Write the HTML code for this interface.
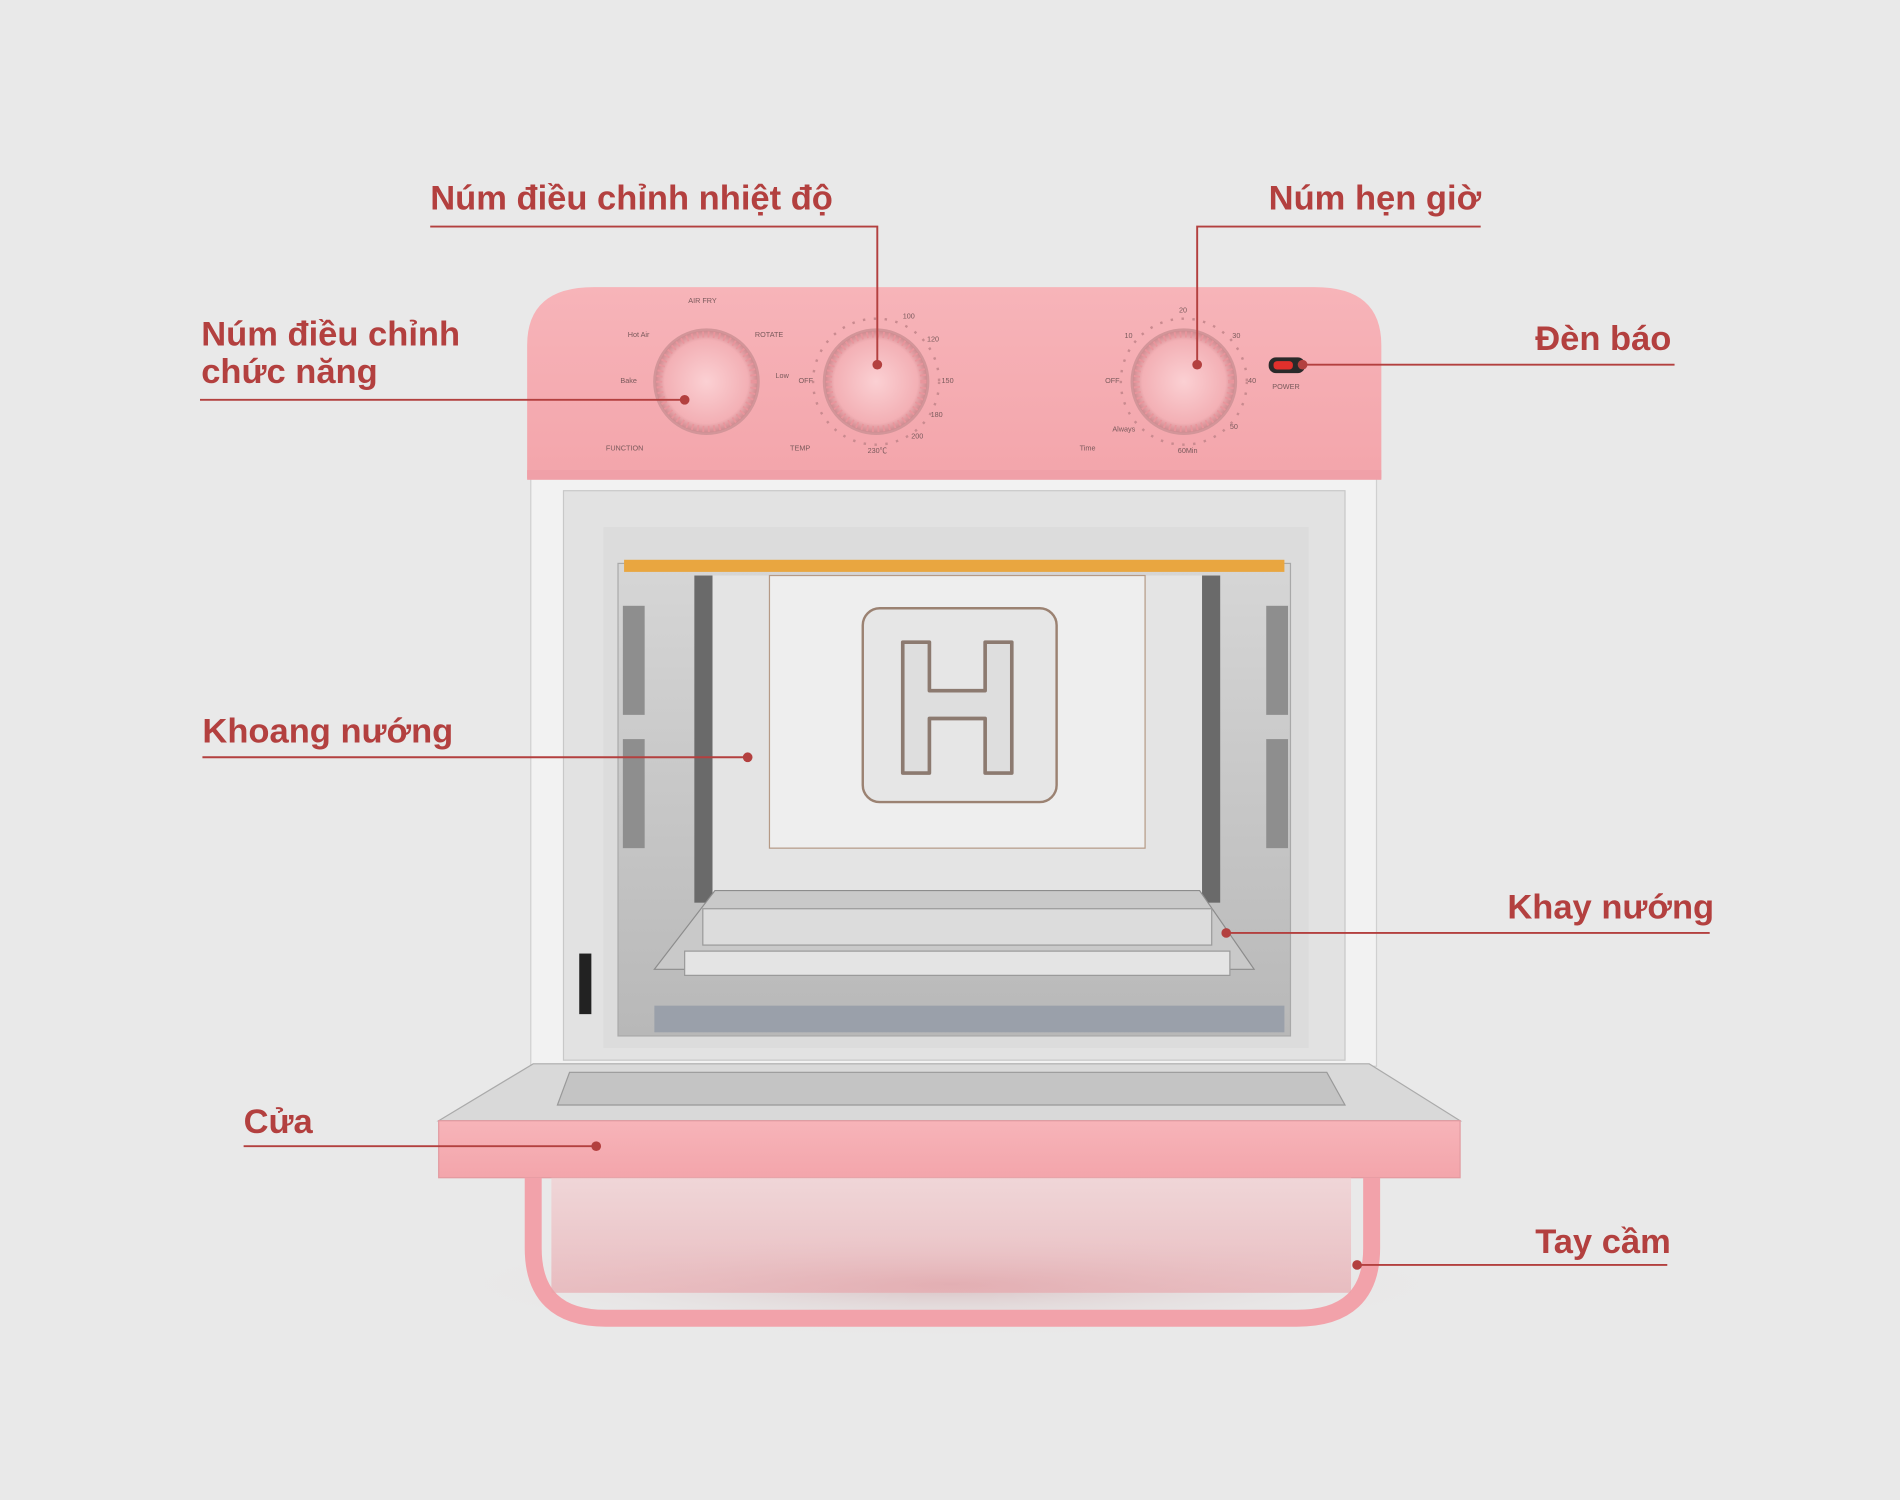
<!DOCTYPE html>
<html><head><meta charset="utf-8"><style>
html,body{margin:0;padding:0;background:#e9e9e9;}
svg{display:block}
.t{font-family:"Liberation Sans",sans-serif;font-size:28.5px;font-weight:bold;fill:#b3403f;}
.l{stroke:#b3403f;stroke-width:1.6;fill:none}
.s{font-family:"Liberation Sans","Noto Sans CJK KR",sans-serif;font-size:6px;fill:#7a5a5c}
</style></head><body>
<svg width="1900" height="1500" viewBox="0 0 1568 1238" xmlns="http://www.w3.org/2000/svg">
<defs>
<linearGradient id="pk" x1="0" y1="0" x2="0" y2="1"><stop offset="0" stop-color="#f7b4b9"/><stop offset="1" stop-color="#f3a5ab"/></linearGradient>
<linearGradient id="cav" x1="0" y1="0" x2="0" y2="1"><stop offset="0" stop-color="#d6d6d6"/><stop offset="1" stop-color="#b8b8b8"/></linearGradient>
<linearGradient id="hd" x1="0" y1="0" x2="0" y2="1"><stop offset="0" stop-color="#f4c9cc"/><stop offset="1" stop-color="#e8a0a6"/></linearGradient>
<radialGradient id="kn"><stop offset="0" stop-color="#fbd0d3"/><stop offset="0.8" stop-color="#f3b0b5"/><stop offset="1" stop-color="#c9868b"/></radialGradient>
<radialGradient id="sh" cx="0.5" cy="0.5" r="0.5"><stop offset="0" stop-color="#d9c0c2"/><stop offset="1" stop-color="#e9e9e9" stop-opacity="0"/></radialGradient>
</defs>
<rect width="1568" height="1238" fill="#e9e9e9"/>
<ellipse cx="785" cy="1060" rx="420" ry="45" fill="url(#sh)"/>
<rect x="438" y="385" width="698" height="495" fill="#f2f2f2" stroke="#d0d0d0"/>
<rect x="465" y="405" width="645" height="470" fill="#e2e2e2" stroke="#c8c8c8"/>
<rect x="498" y="435" width="582" height="430" fill="#dcdcdc"/>
<rect x="510" y="465" width="555" height="390" fill="url(#cav)" stroke="#a9a9a9"/>
<rect x="515" y="462" width="545" height="10" fill="#e9a640"/>
<rect x="573" y="475" width="15" height="270" fill="#6a6a6a"/>
<rect x="992" y="475" width="15" height="270" fill="#6a6a6a"/>
<rect x="588" y="475" width="404" height="265" fill="#e4e4e4"/>
<rect x="635" y="475" width="310" height="225" fill="#eeeeee" stroke="#b59a86"/>
<g fill="#8e8e8e"><rect x="514" y="500" width="18" height="90"/><rect x="514" y="610" width="18" height="90"/><rect x="1045" y="500" width="18" height="90"/><rect x="1045" y="610" width="18" height="90"/></g>
<rect x="712" y="502" width="160" height="160" rx="14" fill="#e6e6e6" stroke="#9b8272" stroke-width="2"/>
<path d="M745 530 h22 v40 h46 v-40 h22 v108 h-22 v-45 h-46 v45 h-22z" fill="#dedede" stroke="#8c7a70" stroke-width="3" stroke-linejoin="round"/>
<polygon points="590,735 990,735 1035,800 540,800" fill="#c9c9c9" stroke="#8c8c8c"/>
<rect x="580" y="750" width="420" height="30" fill="#dcdcdc" stroke="#9a9a9a"/>
<rect x="565" y="785" width="450" height="20" fill="#e4e4e4" stroke="#9a9a9a"/>
<rect x="540" y="830" width="520" height="22" fill="#9aa0aa"/>
<rect x="478" y="787" width="10" height="50" fill="#222"/>
<polygon points="440,878 1130,878 1205,925 362,925" fill="#d9d9d9" stroke="#aaa"/>
<polygon points="470,885 1095,885 1110,912 460,912" fill="#c4c4c4" stroke="#999"/>
<rect x="362" y="925" width="843" height="47" fill="url(#pk)" stroke="#e29aa0"/>
<path d="M440 972 V1030 Q440 1088 500 1088 H1070 Q1132 1088 1132 1030 V972" fill="none" stroke="#f2a2aa" stroke-width="14"/>
<rect x="455" y="972" width="660" height="95" fill="url(#hd)" opacity="0.6"/>
<path d="M435 395 V285 Q435 237 490 237 H1085 Q1140 237 1140 285 V395 Z" fill="url(#pk)"/>
<rect x="435" y="388" width="705" height="8" fill="#f0a0a8"/>
<g stroke-width="2">
<circle cx="583" cy="315" r="43" fill="url(#kn)" stroke="#d39599"/>
<circle cx="723" cy="315" r="43" fill="url(#kn)" stroke="#d39599"/>
<circle cx="977" cy="315" r="43" fill="url(#kn)" stroke="#d39599"/>
</g>
<g fill="none" stroke="#e9959c" stroke-width="5" stroke-dasharray="1.5 3">
<circle cx="583" cy="315" r="39"/><circle cx="723" cy="315" r="39"/><circle cx="977" cy="315" r="39"/>
</g>
<circle cx="723" cy="315" r="52" fill="none" stroke="#c98a8f" stroke-dasharray="2 7" stroke-width="2"/>
<circle cx="977" cy="315" r="52" fill="none" stroke="#c98a8f" stroke-dasharray="2 7" stroke-width="2"/>
<rect x="1047" y="295" width="30" height="13" rx="6" fill="#2a2a2a"/>
<rect x="1051" y="298" width="16" height="7" rx="3" fill="#e0302c"/>
<text class="s" x="568" y="250">AIR FRY</text><text class="s" x="518" y="278">Hot Air</text><text class="s" x="623" y="278">ROTATE</text>
<text class="s" x="512" y="316">Bake</text><text class="s" x="640" y="312">Low</text><text class="s" x="659" y="316">OFF</text>
<text class="s" x="500" y="372">FUNCTION</text><text class="s" x="652" y="372">TEMP</text><text class="s" x="716" y="374">230℃</text>
<text class="s" x="745" y="263">100</text><text class="s" x="765" y="282">120</text><text class="s" x="777" y="316">150</text><text class="s" x="768" y="344">180</text><text class="s" x="752" y="362">200</text>
<text class="s" x="973" y="258">20</text><text class="s" x="928" y="279">10</text><text class="s" x="1017" y="279">30</text><text class="s" x="1030" y="316">40</text><text class="s" x="1015" y="354">50</text><text class="s" x="912" y="316">OFF</text>
<text class="s" x="891" y="372">Time</text><text class="s" x="918" y="356">Always</text><text class="s" x="972" y="374">60Min</text><text class="s" x="1050" y="321">POWER</text>
<g class="t">
<text x="355" y="173">Núm điều chỉnh nhiệt độ</text>
<text x="1047" y="173">Núm hẹn giờ</text>
<text x="166" y="285">Núm điều chỉnh</text>
<text x="166" y="316">chức năng</text>
<text x="1267" y="289">Đèn báo</text>
<text x="167" y="613">Khoang nướng</text>
<text x="1244" y="758">Khay nướng</text>
<text x="201" y="935">Cửa</text>
<text x="1267" y="1034">Tay cầm</text>
</g>
<g class="l">
<polyline points="355,187 724,187 724,301"/>
<polyline points="1222,187 988,187 988,301"/>
<line x1="165" y1="330" x2="565" y2="330"/>
<line x1="1075" y1="301" x2="1382" y2="301"/>
<line x1="167" y1="625" x2="617" y2="625"/>
<line x1="1012" y1="770" x2="1411" y2="770"/>
<line x1="201" y1="946" x2="492" y2="946"/>
<line x1="1120" y1="1044" x2="1376" y2="1044"/>
</g>
<g fill="#b3403f">
<circle cx="724" cy="301" r="4"/><circle cx="988" cy="301" r="4"/><circle cx="565" cy="330" r="4"/><circle cx="1075" cy="301" r="4"/>
<circle cx="617" cy="625" r="4"/><circle cx="1012" cy="770" r="4"/><circle cx="492" cy="946" r="4"/><circle cx="1120" cy="1044" r="4"/>
</g>
</svg>
</body></html>
